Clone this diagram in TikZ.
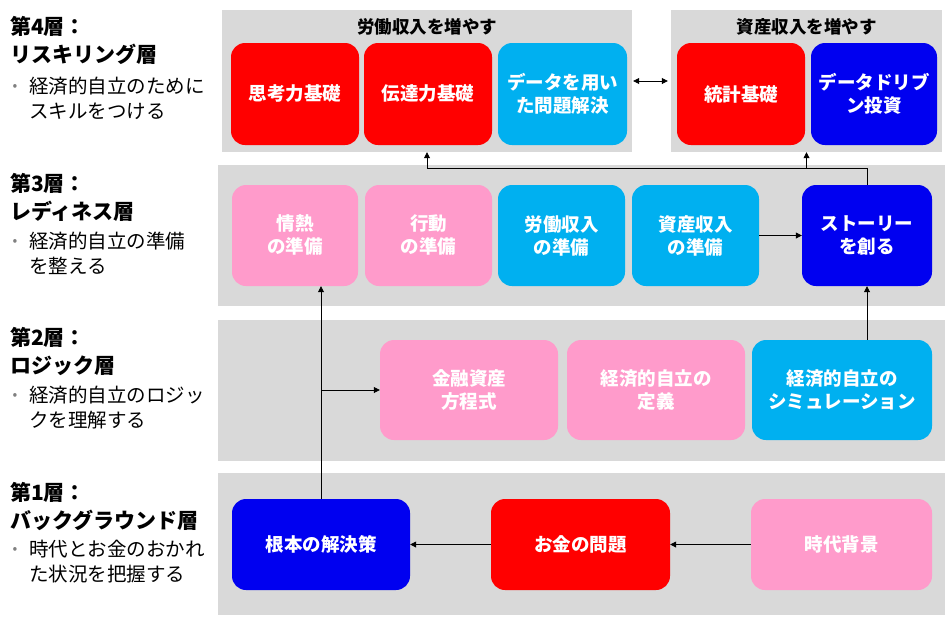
\documentclass[tikz,border=0pt]{standalone}
\usepackage{fontspec}
\setmainfont{Noto Sans CJK JP}
\usetikzlibrary{arrows.meta}
\definecolor{tred}{RGB}{255,0,0}
\definecolor{tblue}{RGB}{0,0,240}
\definecolor{tcyan}{RGB}{0,176,240}
\definecolor{tpink}{RGB}{255,155,203}
\definecolor{tgray}{RGB}{217,217,217}
\begin{document}
\begin{tikzpicture}[x=1pt,y=-1pt,
  panel/.style={fill=tgray, inner sep=0pt},
  tile/.style={rounded corners=14pt, text=white, align=center, inner sep=0pt,
    font=\bfseries\fontsize{18.5}{23}\selectfont},
  redtile/.style={tile, fill=tred},
  bluetile/.style={tile, fill=tblue},
  cyantile/.style={tile, fill=tcyan},
  pinktile/.style={tile, fill=tpink},
  ptitle/.style={font=\bfseries\fontsize{17.5}{20}\selectfont},
  head/.style={anchor=north west, inner sep=0pt, align=left, font=\bfseries\fontsize{21}{28.5}\selectfont},
  sub/.style={anchor=north west, inner sep=0pt, align=left, font=\fontsize{19.5}{25}\selectfont},
  dot/.style={text=gray, font=\fontsize{14}{14}\selectfont, inner sep=0pt},
  arr/.style={-{Triangle[length=6pt,width=6pt]}, thick}
]
\useasboundingbox (0,0) rectangle (947,622);

\node[panel, minimum width=410pt, minimum height=142pt] (labor) at (427,81) {};
\node[panel, minimum width=271pt, minimum height=142pt] (asset) at (806.5,81) {};
\node[panel, minimum width=727pt, minimum height=141pt] (lay3) at (581.5,235.5) {};
\node[panel, minimum width=727pt, minimum height=141pt] (lay2) at (581.5,390.5) {};
\node[panel, minimum width=727pt, minimum height=142pt] (lay1) at (581.5,544) {};

\node[ptitle] (labortitle) at (427,27) {労働収入を増やす};
\node[ptitle] (assettitle) at (806.5,27) {資産収入を増やす};

\node[redtile, minimum width=128pt, minimum height=102pt] (think) at (295,94) {思考力基礎};
\node[redtile, minimum width=128pt, minimum height=102pt] (convey) at (428,94) {伝達力基礎};
\node[cyantile, minimum width=129pt, minimum height=102pt] (datasolve) at (562.5,94) {データを用い\\た問題解決};
\node[redtile, minimum width=128pt, minimum height=102pt] (stats) at (741,94) {統計基礎};
\node[bluetile, minimum width=126pt, minimum height=102pt] (driven) at (874,94) {データドリブ\\ン投資};

\node[pinktile, minimum width=126pt, minimum height=101pt] (passion) at (295,235.5) {情熱\\の準備};
\node[pinktile, minimum width=127pt, minimum height=101pt] (action) at (428.5,235.5) {行動\\の準備};
\node[cyantile, minimum width=127pt, minimum height=101pt] (laborprep) at (561.5,235.5) {労働収入\\の準備};
\node[cyantile, minimum width=127pt, minimum height=101pt] (assetprep) at (695.5,235.5) {資産収入\\の準備};
\node[bluetile, minimum width=130pt, minimum height=101pt] (story) at (867,235.5) {ストーリー\\を創る};

\node[pinktile, minimum width=178pt, minimum height=100pt] (equation) at (469,390) {金融資産\\方程式};
\node[pinktile, minimum width=178pt, minimum height=100pt] (define) at (656,390) {経済的自立の\\定義};
\node[cyantile, minimum width=180pt, minimum height=100pt] (simulate) at (842,390) {経済的自立の\\シミュレーション};

\node[bluetile, minimum width=178pt, minimum height=91pt] (remedy) at (321,544.5) {根本の解決策};
\node[redtile, minimum width=179pt, minimum height=91pt] (money) at (580.5,544.5) {お金の問題};
\node[pinktile, minimum width=181pt, minimum height=91pt] (era) at (841.5,544.5) {時代背景};

\coordinate (split) at (867,168);
\draw[{Triangle[length=6pt,width=6pt]}-{Triangle[length=6pt,width=6pt]}, thick, shorten <=1pt, shorten >=3pt] (labor.east) -- (asset.west);
\draw[arr] (assetprep.east) -- (story.west);
\draw[arr] (story.north) -- (split) -| (labor.south);
\draw[arr] (split -| asset.south) -- (asset.south);
\draw[arr] (simulate.north -| story.south) -- (story.south);
\draw[arr] (remedy.north) -- (remedy.north |- passion.south);
\draw[arr] (remedy.north |- equation.west) -- (equation.west);
\draw[arr] (era.west) -- (money.east);
\draw[arr] (money.west) -- (remedy.east);

\node[head] (head4) at (10,16) {第4層：\\リスキリング層};
\node[dot] (dot4) at (15,87) {•};
\node[sub] (sub4) at (29,77) {経済的自立のために\\スキルをつける};
\node[head] (head3) at (10,173) {第3層：\\レディネス層};
\node[dot] (dot3) at (15,242) {•};
\node[sub] (sub3) at (29,232) {経済的自立の準備\\を整える};
\node[head] (head2) at (10,327) {第2層：\\ロジック層};
\node[dot] (dot2) at (15,396) {•};
\node[sub] (sub2) at (29,386) {経済的自立のロジッ\\クを理解する};
\node[head] (head1) at (10,482) {第1層：\\バックグラウンド層};
\node[dot] (dot1) at (15,550) {•};
\node[sub] (sub1) at (29,540) {時代とお金のおかれ\\た状況を把握する};
\end{tikzpicture}
\end{document}
